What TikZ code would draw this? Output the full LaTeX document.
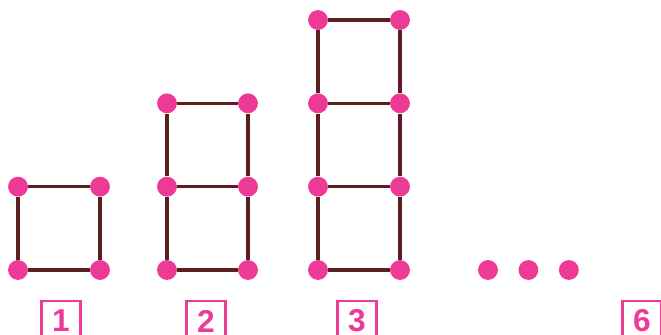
\documentclass[tikz,border=0pt]{standalone}
\usepackage{fontspec}
\setsansfont{Liberation Sans}
\usetikzlibrary{positioning}
\definecolor{dotpink}{HTML}{EE3A97}
\definecolor{edgebrown}{HTML}{5A2020}

\begin{document}
\begin{tikzpicture}[x=0.02cm, y=-0.02cm,
	dot/.style={circle, fill=dotpink, inner sep=0pt, minimum size=11.3pt},
	edge/.style={draw=edgebrown, line width=1.8pt},
	tag/.style={draw=dotpink, line width=1.4pt, text=dotpink,
		font=\sffamily\bfseries\fontsize{18}{18}\selectfont,
		minimum width=22pt, minimum height=23pt, inner sep=0pt}]
	\clip (0,0) rectangle (661,334);
	% columns of squares
	\foreach \f/\xl/\xr/\n in {1/18/100/1, 2/167/248/2, 3/318/400/3} {
		\foreach \r in {0,...,\n} {
			\node[dot] (f\f l\r) at (\xl, 270-83.33*\r) {};
			\node[dot] (f\f r\r) at (\xr, 270-83.33*\r) {};
			\draw[edge] (f\f l\r) -- (f\f r\r);
		}
		\foreach \r [evaluate=\r as \p using int(\r-1)] in {1,...,\n} {
			\draw[edge] (f\f l\p) -- (f\f l\r);
			\draw[edge] (f\f r\p) -- (f\f r\r);
		}
	}
	% dots
	\node[dot] (e1) at (488,270) {};
	\node[dot, right=11.3pt of e1] (e2) {};
	\node[dot, right=11.3pt of e2] (e3) {};
	% labels
	\node[tag] (t1) at (61,321) {1};
	\node[tag] (t2) at (206,321) {2};
	\node[tag] (t3) at (357,321) {3};
	\node[tag] (t6) at (642,321) {6};
\end{tikzpicture}
\end{document}
